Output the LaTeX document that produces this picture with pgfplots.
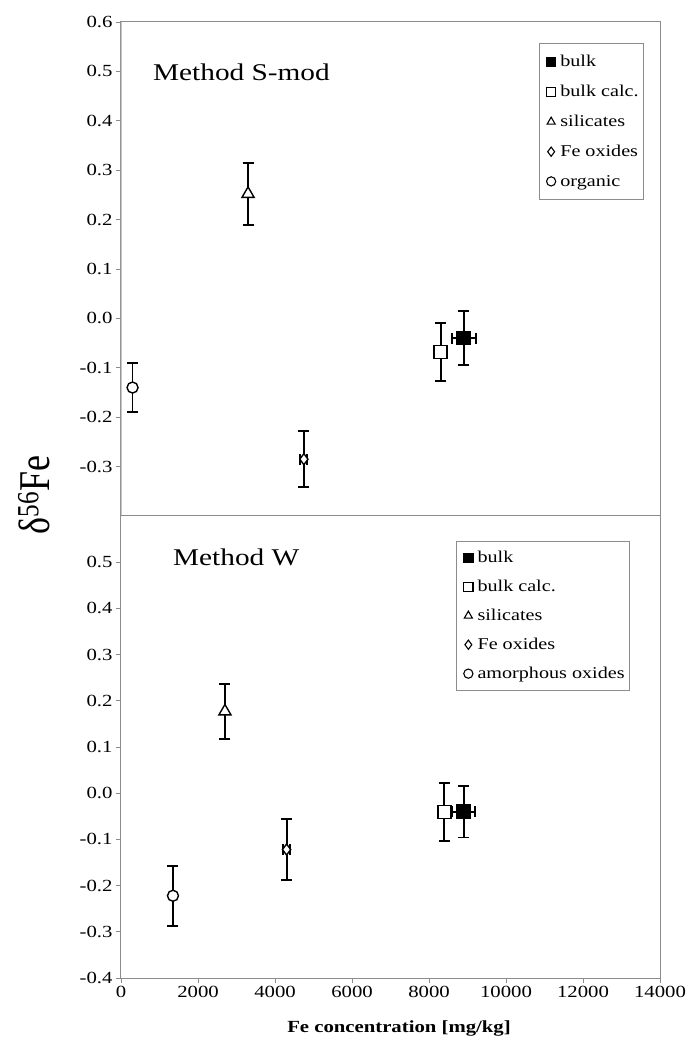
\documentclass[border=0pt]{standalone}
\usepackage{fontspec}
\setmainfont{Liberation Serif}
\usepackage{graphicx}
\usepackage{pgfplots}
\pgfplotsset{compat=1.18}
\newcommand\sx[1]{\scalebox{1.22}[1]{#1}}
\definecolor{axgray}{gray}{0.55}
\pgfplotsset{
  panel/.style={
    scale only axis, width=539pt,
    xmin=0, xmax=14000, ymin=-0.4, ymax=0.6,
    scaled x ticks=false, scaled y ticks=false,
    axis line style={axgray, line width=1pt},
    tick style={axgray, line width=0.8pt},
    tick align=outside, major tick length=5pt,
    xtick pos=bottom, ytick pos=left,
    tick label style={font=\fontsize{17}{20}\selectfont},
    legend cell align=left,
    legend style={draw=axgray, line width=0.8pt, font=\fontsize{16.5}{20}\selectfont,
      inner xsep=3pt},
    legend image code/.code={\draw[##1, mark size=4.6pt, line width=1.1pt] plot coordinates {(0pt,0pt)};
      \path (-8pt,0pt) (6.5pt,0pt);},
    error bars/error mark=|,
    error bars/error bar style={black, line width=1.9pt},
    error bars/error mark options={mark size=5.5pt, line width=1.9pt, black},
  },
  ser/.style={only marks, black, line width=1.4pt,
    /pgfplots/error bars/y dir=both, /pgfplots/error bars/y explicit},
  xerr/.style={forget plot, only marks, mark=none, black,
    /pgfplots/error bars/x dir=both, /pgfplots/error bars/x explicit},
}
\begin{document}
\begin{tikzpicture}
\path[use as bounding box] (-121pt,-61pt) rectangle (570pt,978pt);
% top panel
\begin{axis}[panel, at={(0pt,462pt)}, anchor=south west, height=494pt,
  xtick=\empty,
  ytick={-0.3,-0.2,-0.1,0,0.1,0.2,0.3,0.4,0.5,0.6},
  yticklabels={\sx{-0.3},\sx{-0.2},\sx{-0.1},\sx{0.0},\sx{0.1},\sx{0.2},\sx{0.3},\sx{0.4},\sx{0.5},\sx{0.6}},
  legend style={at={(1,1)}, anchor=north east, xshift=-16pt, yshift=-21pt, row sep=13pt, inner ysep=10pt}]
% x error bars (drawn first, behind the marks)
\addplot[xerr] coordinates {(8900,-0.04) +- (310,0)};
\addplot[xerr] coordinates {(4750,-0.285) +- (90,0)};
\addplot+[ser, mark=square*, mark size=6.5pt, mark options={fill=black, draw=black}]
  coordinates {(8900,-0.04) +- (0,0.055)};
\addlegendentry{\sx{bulk}}
\addplot+[ser, mark=square*, mark size=6.5pt, mark options={fill=white, draw=black}]
  coordinates {(8300,-0.068) +- (0,0.058)};
\addlegendentry{\sx{bulk calc.}}
\addplot+[ser, mark=triangle*, mark size=7pt, mark options={fill=white, draw=black}]
  coordinates {(3300,0.252) +- (0,0.063)};
\addlegendentry{\sx{silicates}}
\addplot+[ser, mark=diamond*, mark size=5.5pt, mark options={fill=white, draw=black}]
  coordinates {(4750,-0.285) +- (0,0.057)};
\addlegendentry{\sx{Fe oxides}}
\addplot+[ser, mark=*, mark size=5.5pt, mark options={fill=white, draw=black}]
  coordinates {(300,-0.14) +- (0,0.05)};
\addlegendentry{\sx{organic}}
\draw[black!22, line width=2pt] (rel axis cs:0,0) -- (rel axis cs:0,1);
\node[anchor=west, font=\fontsize{24}{28}\selectfont, inner sep=0pt] at (rel axis cs:0,1) [xshift=32pt, yshift=-50pt] {\sx{Method S-mod}};
\end{axis}
% bottom panel
\begin{axis}[panel, at={(0pt,0pt)}, anchor=south west, height=462pt,
  xtick={0,2000,4000,6000,8000,10000,12000,14000},
  xticklabels={\sx{0},\sx{2000},\sx{4000},\sx{6000},\sx{8000},\sx{10000},\sx{12000},\sx{14000}},
  ytick={-0.4,-0.3,-0.2,-0.1,0,0.1,0.2,0.3,0.4,0.5},
  yticklabels={\sx{-0.4},\sx{-0.3},\sx{-0.2},\sx{-0.1},\sx{0.0},\sx{0.1},\sx{0.2},\sx{0.3},\sx{0.4},\sx{0.5}},
  legend style={at={(1,1)}, anchor=north east, xshift=-30pt, yshift=-25pt, row sep=12pt, inner ysep=8pt}]
\addplot[xerr] coordinates {(8900,-0.04) +- (300,0)};
\addplot[xerr] coordinates {(8400,-0.041) +- (180,0)};
\addplot[xerr] coordinates {(4300,-0.122) +- (100,0)};
\addplot+[ser, mark=square*, mark size=6.5pt, mark options={fill=black, draw=black}]
  coordinates {(8900,-0.04) +- (0,0.056)};
\addlegendentry{\sx{bulk}}
\addplot+[ser, mark=square*, mark size=6.5pt, mark options={fill=white, draw=black}]
  coordinates {(8400,-0.041) +- (0,0.063)};
\addlegendentry{\sx{bulk calc.}}
\addplot+[ser, mark=triangle*, mark size=7pt, mark options={fill=white, draw=black}]
  coordinates {(2700,0.177) +- (0,0.06)};
\addlegendentry{\sx{silicates}}
\addplot+[ser, mark=diamond*, mark size=5.5pt, mark options={fill=white, draw=black}]
  coordinates {(4300,-0.122) +- (0,0.066)};
\addlegendentry{\sx{Fe oxides}}
\addplot+[ser, mark=*, mark size=5.5pt, mark options={fill=white, draw=black}]
  coordinates {(1350,-0.222) +- (0,0.065)};
\addlegendentry{\sx{amorphous oxides}}
\node[anchor=west, font=\fontsize{24}{28}\selectfont, inner sep=0pt] at (rel axis cs:0,1) [xshift=52pt, yshift=-41pt] {\sx{Method W}};
\end{axis}
\node[font=\fontsize{17}{20}\selectfont\bfseries] at (278pt,-50pt) {\sx{Fe concentration [mg/kg]}};
\node[rotate=90, font=\fontsize{36}{40}\selectfont] at (-87pt,483pt) {\scalebox{1}[1.22]{δ\textsuperscript{56}Fe}};
\end{tikzpicture}
\end{document}
